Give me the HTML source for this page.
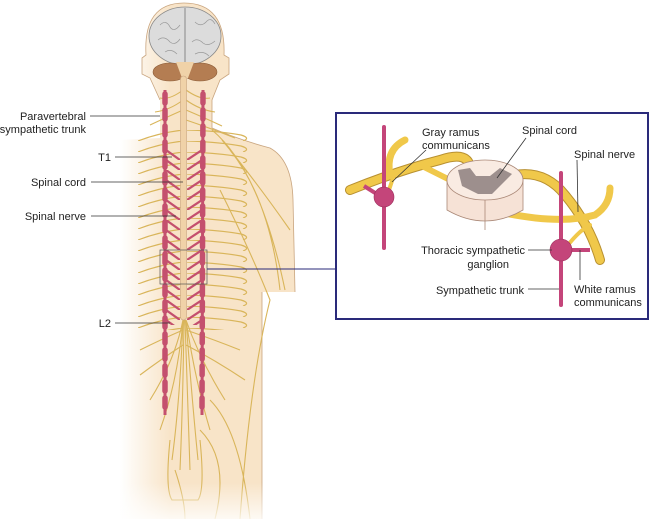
<!DOCTYPE html>
<html><head><meta charset="utf-8"><style>
html,body{margin:0;padding:0;background:#fff;}
svg{display:block;font-family:"Liberation Sans",sans-serif;font-size:11px;fill:#222;}
</style></head><body>
<svg width="650" height="519" viewBox="0 0 650 519" xmlns="http://www.w3.org/2000/svg">
<defs>
<linearGradient id="fade" x1="120" x2="170" y1="0" y2="0" gradientUnits="userSpaceOnUse">
<stop offset="0" stop-color="#f8e4c8" stop-opacity="0"/>
<stop offset="1" stop-color="#f8e4c8" stop-opacity="1"/>
</linearGradient>
<linearGradient id="vf" x1="0" x2="0" y1="0" y2="1">
<stop offset="0.93" stop-color="#fff" stop-opacity="0"/>
<stop offset="1" stop-color="#fff" stop-opacity="0.8"/>
</linearGradient>
<pattern id="rl" patternUnits="userSpaceOnUse" x="138" y="86" width="45" height="11">
<path d="M45 0 Q20 3 0 11" fill="none" stroke="#d9b55a" stroke-width="1.2"/>
</pattern>
<pattern id="rr" patternUnits="userSpaceOnUse" x="187" y="86" width="66" height="11">
<path d="M0 0 Q32 1 54 5 Q64 8 56 11" fill="none" stroke="#d9b55a" stroke-width="1.2"/>
</pattern>
<pattern id="cl" patternUnits="userSpaceOnUse" x="166" y="150" width="14" height="10">
<path d="M0 0 L14 10" stroke="#c4506e" stroke-width="2.2"/>
</pattern>
<pattern id="cr" patternUnits="userSpaceOnUse" x="187" y="150" width="15" height="10">
<path d="M15 0 L0 10" stroke="#c4506e" stroke-width="2.2"/>
</pattern>
</defs>
<path d="M120 140 L160 138 L160 100 L150 78 L142 74 L142 58 L146 55 Q143 3 184 3 Q226 3 224 55 L229 58 L229 74 L220 80 L212 100 L212 128 Q240 140 270 148 Q292 160 293 200 L295 292 L262 292 L262 519 L120 519 Z" fill="url(#fade)"/>
<path d="M160 100 L150 78 L142 74 L142 58 L146 55 Q143 3 184 3 Q226 3 224 55 L229 58 L229 74 L220 80 L212 100 L212 128 Q240 140 270 148 Q292 160 293 200 L295 292 M262 292 L262 519" fill="none" stroke="#c9a57f" stroke-width="0.8"/>
<ellipse cx="185" cy="36" rx="36" ry="29" fill="#dcdcdc" stroke="#888" stroke-width="0.8"/>
<path d="M185 8 L185 63" stroke="#888"/>
<path d="M160 25 q6 -6 10 2 q4 6 10 -2 M158 40 q6 -5 12 2 q5 4 10 -3 M195 22 q6 6 12 -1 q4 -4 8 3 M192 42 q5 -5 11 1 q5 4 12 -2 M165 52 q6 -4 12 2 M195 54 q8 -4 14 2" stroke="#999" fill="none" stroke-width="0.7"/>
<ellipse cx="170" cy="72" rx="17" ry="9" fill="#b47d52" stroke="#8a5a36" stroke-width="0.6"/>
<ellipse cx="200" cy="72" rx="17" ry="9" fill="#b47d52" stroke="#8a5a36" stroke-width="0.6"/>
<path d="M176 62 L194 62 L188 78 L182 78 Z" fill="#f0d2a8"/>
<rect x="138" y="130" width="45" height="200" fill="url(#rl)"/>
<rect x="187" y="130" width="66" height="200" fill="url(#rr)"/>
<g fill="none" stroke="#d9b55a" stroke-width="1.1">
<path d="M183 90 Q170 100 160 98 M183 100 Q170 110 155 112 M183 110 Q165 118 150 125 M186 90 Q200 100 210 98 M186 100 Q200 110 215 112 M186 110 Q205 118 222 126 M186 120 Q210 128 235 138"/>
<path d="M183 320 Q175 360 150 400 M183 320 Q178 380 160 430 M183 320 Q180 400 172 460 M184 320 Q183 400 180 470 M185 320 Q188 400 190 470 M186 320 Q192 400 198 460 M186 320 Q195 380 210 430 M186 320 Q200 360 225 400 M183 330 Q160 340 140 350 M183 345 Q160 360 140 375 M186 330 Q215 340 240 350 M186 345 Q215 360 245 380"/>
<path d="M170 440 Q165 490 172 500 L198 500 Q205 490 200 440 M175 470 Q185 500 185 519"/>
<path d="M212 130 Q260 170 285 290 M230 150 Q270 200 280 290 M222 140 Q255 180 290 230 M220 190 Q250 250 270 300 Q250 380 240 519 M200 430 Q230 460 215 519 M210 400 Q240 430 250 519"/>
</g>
<rect x="180.5" y="76" width="6" height="244" rx="3" fill="#f0d2a8" stroke="#c9a57f" stroke-width="0.6"/>
<rect x="166" y="150" width="14" height="175" fill="url(#cl)"/>
<rect x="187" y="150" width="15" height="175" fill="url(#cr)"/>
<g stroke="#c4506e" fill="none">
<path d="M165 90 L165 415 M203 90 L202 415" stroke-width="3"/>
<path d="M165 94 L165 412 M203 94 L202 412" stroke-width="5.5" stroke-linecap="round" stroke-dasharray="9 7"/>
</g>
<rect x="160" y="250" width="47" height="34" fill="none" stroke="#555" stroke-width="0.7"/>
<rect x="0" y="0" width="650" height="519" fill="url(#vf)"/>
<g stroke="#333" stroke-width="0.8">
<line x1="90" y1="116" x2="160" y2="116"/><line x1="115" y1="157" x2="172" y2="157"/>
<line x1="91" y1="182" x2="183" y2="182"/><line x1="91" y1="216" x2="176" y2="216"/>
<line x1="115" y1="323" x2="170" y2="323"/>
</g>
<line x1="207" y1="269" x2="337" y2="269" stroke="#2a2a7a" stroke-width="1"/>
<g text-anchor="end">
<text x="86" y="120">Paravertebral</text><text x="86" y="133">sympathetic trunk</text>
<text x="111" y="161">T1</text><text x="86" y="186">Spinal cord</text>
<text x="86" y="220">Spinal nerve</text><text x="111" y="327">L2</text>
</g>
<rect x="336" y="113" width="312" height="206" fill="#fff" stroke="#2a2a7a" stroke-width="2"/>
<g fill="none" stroke-linecap="round">
<path d="M350 190 Q400 170 440 160 Q470 150 470 170" stroke="#b89030" stroke-width="10"/>
<path d="M350 190 Q400 170 440 160 Q470 150 470 170" stroke="#f0c84a" stroke-width="8"/>
<path d="M390 175 Q385 150 405 140" stroke="#f0c84a" stroke-width="7"/>
<path d="M420 165 Q440 175 460 185" stroke="#f0c84a" stroke-width="6"/>
<path d="M515 175 Q545 170 565 195 Q590 225 600 260" stroke="#b89030" stroke-width="10"/>
<path d="M515 175 Q545 170 565 195 Q590 225 600 260" stroke="#f0c84a" stroke-width="8"/>
<path d="M500 212 Q560 225 595 215 Q610 205 610 188" stroke="#f0c84a" stroke-width="7"/>
<path d="M568 245 Q580 230 590 225" stroke="#f0c84a" stroke-width="4"/>
<path d="M389 190 L393 178" stroke="#f0c84a" stroke-width="4"/>
</g>
<path d="M447 180 L447 210 Q485 232 523 210 L523 180 Z" fill="#f6e2d6" stroke="#aa8877" stroke-width="0.8"/>
<ellipse cx="485" cy="180" rx="38" ry="20" fill="#f9ebe2" stroke="#aa8877" stroke-width="0.8"/>
<path d="M458 170 L470 168 L476 176 L490 176 L500 168 L512 174 L500 186 L492 194 L478 194 L462 186 Z" fill="#9d8f8d"/>
<line x1="485" y1="200" x2="485" y2="230" stroke="#aa8877" stroke-width="0.8"/>
<g stroke="#c4457a">
<line x1="384" y1="127" x2="384" y2="248" stroke-width="4" stroke-linecap="round"/>
<line x1="364" y1="186" x2="380" y2="196" stroke-width="4"/>
<line x1="561" y1="173" x2="561" y2="305" stroke-width="4" stroke-linecap="round"/>
<line x1="561" y1="250" x2="590" y2="250" stroke-width="4"/>
</g>
<circle cx="384" cy="197" r="10" fill="#c4457a" stroke="#9a2c5a" stroke-width="0.6"/>
<circle cx="561" cy="250" r="11" fill="#c4457a" stroke="#9a2c5a" stroke-width="0.6"/>
<g stroke="#333" stroke-width="0.8">
<line x1="426" y1="150" x2="392" y2="182"/><line x1="526" y1="138" x2="497" y2="178"/>
<line x1="577" y1="160" x2="578" y2="212"/><line x1="528" y1="250" x2="552" y2="250"/>
<line x1="528" y1="289" x2="559" y2="289"/><line x1="580" y1="250" x2="580" y2="280"/>
</g>
<text x="422" y="136">Gray ramus</text><text x="422" y="149">communicans</text>
<text x="522" y="134">Spinal cord</text><text x="574" y="158">Spinal nerve</text>
<g text-anchor="end"><text x="525" y="254">Thoracic sympathetic</text><text x="509" y="268">ganglion</text>
<text x="524" y="294">Sympathetic trunk</text></g>
<text x="574" y="293">White ramus</text><text x="574" y="306">communicans</text>
</svg>
</body></html>
